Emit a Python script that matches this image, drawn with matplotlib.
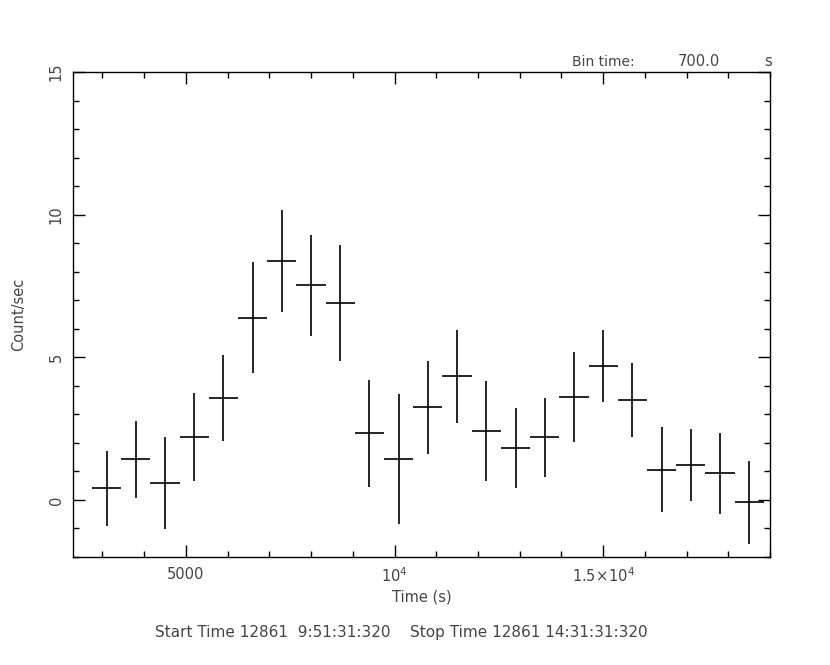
import matplotlib
matplotlib.use('Agg')
import matplotlib.pyplot as plt
from matplotlib.ticker import FixedLocator, MultipleLocator

plt.rcParams['font.family'] = ['DejaVu Sans']
plt.rcParams['mathtext.default'] = 'regular'

# light curve, 700 s bins
time = [3100, 3800, 4500, 5200, 5900, 6600, 7300, 8000, 8700, 9400, 10100, 10800,
        11500, 12200, 12900, 13600, 14300, 15000, 15700, 16400, 17100, 17800, 18500]
rate = [0.41, 1.42, 0.59, 2.21, 3.57, 6.39, 8.39, 7.52, 6.90, 2.33, 1.43, 3.25,
        4.34, 2.41, 1.83, 2.20, 3.61, 4.69, 3.49, 1.05, 1.21, 0.93, -0.08]
rate_err = [1.31, 1.34, 1.61, 1.54, 1.52, 1.95, 1.79, 1.78, 2.03, 1.88, 2.28, 1.63,
            1.63, 1.75, 1.41, 1.39, 1.59, 1.27, 1.30, 1.49, 1.26, 1.41, 1.45]
half_bin = 350

xticks = [5000, 10000, 15000]
xtick_labels = ['5000', '$10^4$', r'$1.5\!\times\!10^4$']

txt = '#444444'

fig = plt.figure(figsize=(8.3, 6.65), dpi=100)
ax = fig.add_axes([0.0883, 0.1624, 0.8394, 0.7293])

ax.errorbar(time, rate, xerr=half_bin, yerr=rate_err, fmt='none',
            ecolor='black', elinewidth=1.2, capsize=0)

ax.set_xlim(2300, 19000)
ax.set_ylim(-2, 15)

ax.xaxis.set_major_locator(FixedLocator(xticks))
ax.set_xticklabels(xtick_labels)
ax.xaxis.set_minor_locator(MultipleLocator(1000))
ax.yaxis.set_major_locator(MultipleLocator(5))
ax.yaxis.set_minor_locator(MultipleLocator(1))

ax.tick_params(which='both', direction='in', top=True, right=True,
               labelsize=10.5, labelcolor=txt, width=1.0)
ax.tick_params(which='major', length=8.5, pad=7)
ax.tick_params(which='minor', length=4)
for lab in ax.get_yticklabels():
    lab.set_rotation(90)
    lab.set_va('center')

for sp in ax.spines.values():
    sp.set_linewidth(1.0)

ax.set_xlabel('Time (s)', fontsize=10.5, color=txt, labelpad=3)
ax.set_ylabel('Count/sec', fontsize=10.5, color=txt, labelpad=16)

fig.text(572 / 830, 1 - 62 / 665, 'Bin time:', fontsize=10, color=txt,
         ha='left', va='center')
fig.text(699 / 830, 1 - 62 / 665, '700.0', fontsize=10.5, color=txt,
         ha='center', va='center')
fig.text(768 / 830, 1 - 62 / 665, 's', fontsize=10.5, color=txt,
         ha='center', va='center')
fig.text(401 / 830, 1 - 632 / 665,
         'Start Time 12861  9:51:31:320    Stop Time 12861 14:31:31:320',
         fontsize=11, color=txt, ha='center', va='center')

fig.savefig('out.png', dpi=100)
